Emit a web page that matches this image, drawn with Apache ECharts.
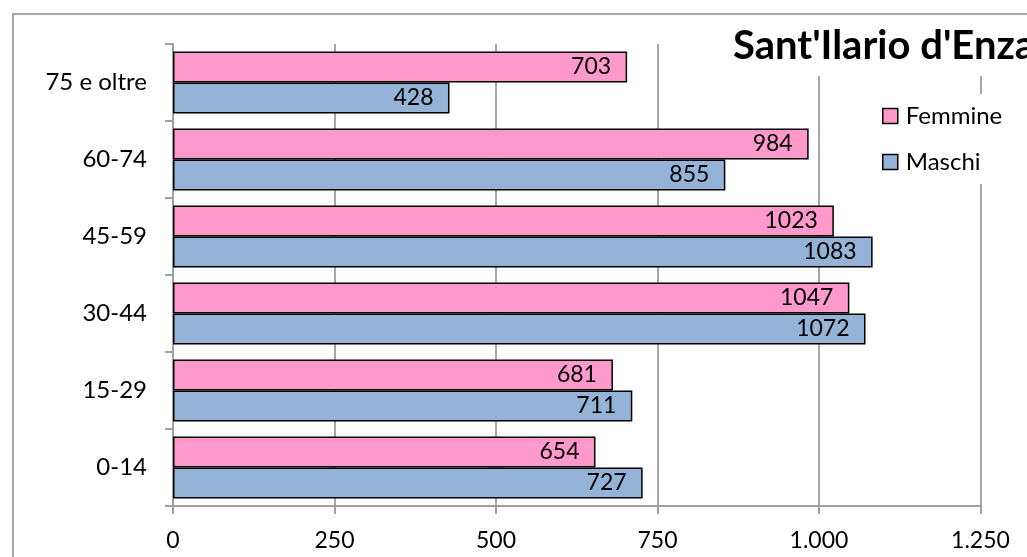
<!DOCTYPE html>
<html>
<head>
<meta charset="utf-8">
<script src="https://cdn.jsdelivr.net/npm/echarts@6/dist/echarts.min.js"></script>
<style>
  html, body { margin: 0; padding: 0; background: #fff; }
  #container { width: 1027px; height: 557px; }
</style>
</head>
<body>
<div id="container"></div>
<script>
  // fasce d'età, dal basso verso l'alto
  let categories = ['0-14', '15-29', '30-44', '45-59', '60-74', '75 e oltre'];
  let femmine = [654, 681, 1047, 1023, 984, 703];
  let maschi = [727, 711, 1072, 1083, 855, 428];
  let tickValues = [0, 250, 500, 750, 1000, 1250];
  let tickLabels = ['0', '250', '500', '750', '1.000', '1.250'];

  let font = 'Lato';
  let myChart = echarts.init(document.getElementById('container'));

  let option = {
    animation: false,
    textStyle: { fontFamily: font },
    graphic: [{
      type: 'rect',
      z: -10,
      shape: { x: 13, y: 14, width: 1100, height: 700 },
      style: { fill: 'none', stroke: '#a6a6a6', lineWidth: 2 }
    }],
    title: {
      text: "Sant'Ilario d'Enza",
      left: 725,
      top: 16,
      padding: [8, 8, 8, 8],
      backgroundColor: '#fff',
      z: 10,
      textStyle: {
        fontFamily: font,
        fontWeight: 'bold',
        fontSize: 40,
        lineHeight: 44,
        color: '#000'
      }
    },
    legend: {
      orient: 'vertical',
      left: 872,
      top: 94,
      padding: [10, 10, 10, 10],
      itemGap: 22,
      itemWidth: 15,
      itemHeight: 15,
      icon: 'rect',
      backgroundColor: '#fff',
      z: 10,
      data: ['Femmine', 'Maschi'],
      itemStyle: { borderColor: '#000', borderWidth: 1.5 },
      textStyle: { fontFamily: font, fontSize: 24, color: '#000', padding: [0, 0, 0, 3] }
    },
    grid: { left: 173, right: 46.5, top: 44, bottom: 51 },
    xAxis: {
      type: 'value',
      min: 0,
      max: 1250,
      interval: 250,
      axisLine: { show: true, lineStyle: { color: '#a0a0a0', width: 2 } },
      axisTick: { show: true, length: 8, lineStyle: { color: '#a0a0a0', width: 2 } },
      splitLine: { show: true, lineStyle: { color: '#a5a5a5', width: 2 } },
      axisLabel: {
        margin: 23,
        fontSize: 23,
        color: '#000',
        fontFamily: font,
        formatter: function (value) {
          let i = tickValues.indexOf(value);
          return i >= 0 ? tickLabels[i] : '';
        }
      }
    },
    yAxis: {
      type: 'category',
      data: categories,
      axisLine: { show: true, lineStyle: { color: '#a0a0a0', width: 2 } },
      axisTick: { show: true, length: 8, lineStyle: { color: '#a0a0a0', width: 2 } },
      axisLabel: { margin: 26, fontSize: 24, color: '#000', fontFamily: font }
    },
    series: [
      {
        name: 'Femmine',
        type: 'bar',
        data: femmine,
        barGap: 0,
        barCategoryGap: '19.5%',
        itemStyle: { color: '#ff99cc', borderColor: '#000', borderWidth: 1.5 },
        label: {
          show: true,
          position: 'insideRight',
          distance: 16,
          fontSize: 23,
          color: '#000',
          fontFamily: font
        }
      },
      {
        name: 'Maschi',
        type: 'bar',
        data: maschi,
        barGap: 0,
        barCategoryGap: '19.5%',
        itemStyle: { color: '#95b3d7', borderColor: '#000', borderWidth: 1.5 },
        label: {
          show: true,
          position: 'insideRight',
          distance: 16,
          fontSize: 23,
          color: '#000',
          fontFamily: font
        }
      }
    ]
  };

  if (option && typeof option === 'object') {
    myChart.setOption(option, true);
  }
</script>
</body>
</html>
